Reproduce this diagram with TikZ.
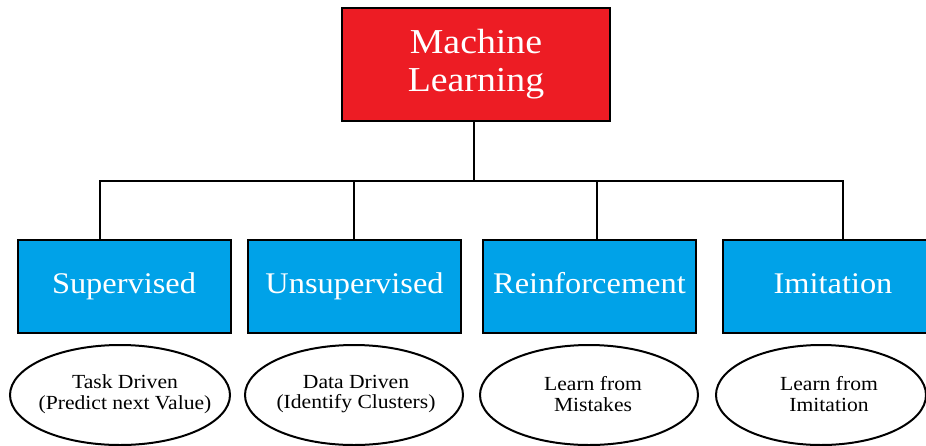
\documentclass[tikz,border=0pt]{standalone}
\usepackage{fontspec}
\setmainfont[FakeStretch=1.08]{Liberation Serif}
\usetikzlibrary{shapes.geometric}
\definecolor{mlred}{HTML}{ED1C24}
\definecolor{mlblue}{HTML}{00A2E8}
\tikzset{
  conn/.style={line width=2pt, black},
  topbox/.style={draw=black, line width=2pt, fill=mlred, text=white, inner sep=0pt,
    minimum width=268pt, minimum height=113pt, align=center,
    font=\fontsize{35}{38}\selectfont},
  catbox/.style={draw=black, line width=2pt, fill=mlblue, text=white, inner sep=0pt,
    minimum width=213pt, minimum height=93pt, align=center,
    text height=21pt, text depth=7pt,
    font=\fontsize{30}{34}\selectfont},
  descell/.style={draw=black, line width=2pt, ellipse, fill=white, inner sep=0pt,
    minimum height=100pt},
  desctext/.style={inner sep=0pt, align=center, font=\fontsize{20}{20.5}\selectfont}
}
\begin{document}
\begin{tikzpicture}[x=1pt,y=-1pt]
\useasboundingbox (0,0) rectangle (926,445);
\node[topbox] (ml) at (476,64.5) {Machine\\Learning};
\node[catbox] (sup) at (124,286.5) {Supervised};
\node[catbox] (uns) at (354.5,286.5) {Unsupervised};
\node[catbox] (rei) at (589.5,286.5) {Reinforcement};
\node[catbox, minimum width=220pt] (imi) at (833,286.5) {Imitation};
\node[descell, minimum width=220pt] (e1) at (120,395) {};
\node[descell, minimum width=218pt] (e2) at (354,395) {};
\node[descell, minimum width=218pt] (e3) at (589,395) {};
\node[descell, minimum width=210pt] (e4) at (821,395) {};
\node[desctext] (t1) at ([xshift=5pt,yshift=1pt]e1.center) {Task Driven\\(Predict next Value)};
\node[desctext] (t2) at ([xshift=2pt,yshift=1pt]e2.center) {Data Driven\\(Identify Clusters)};
\node[desctext] (t3) at ([xshift=4pt,yshift=1pt]e3.center) {Learn from\\Mistakes};
\node[desctext] (t4) at ([xshift=8pt,yshift=1pt]e4.center) {Learn from\\Imitation};
\coordinate (bus) at (474,181);
\coordinate (j1) at (100,181);
\coordinate (j2) at (354,181);
\coordinate (j3) at (597,181);
\coordinate (j4) at (843,181);
\draw[conn] (ml.south -| bus) -- (bus);
\draw[conn] ([xshift=-1pt]j1) -- ([xshift=1pt]j4);
\draw[conn] (j1) -- (j1 |- sup.north);
\draw[conn] (j2) -- (j2 |- uns.north);
\draw[conn] (j3) -- (j3 |- rei.north);
\draw[conn] (j4) -- (j4 |- imi.north);
\end{tikzpicture}
\end{document}
